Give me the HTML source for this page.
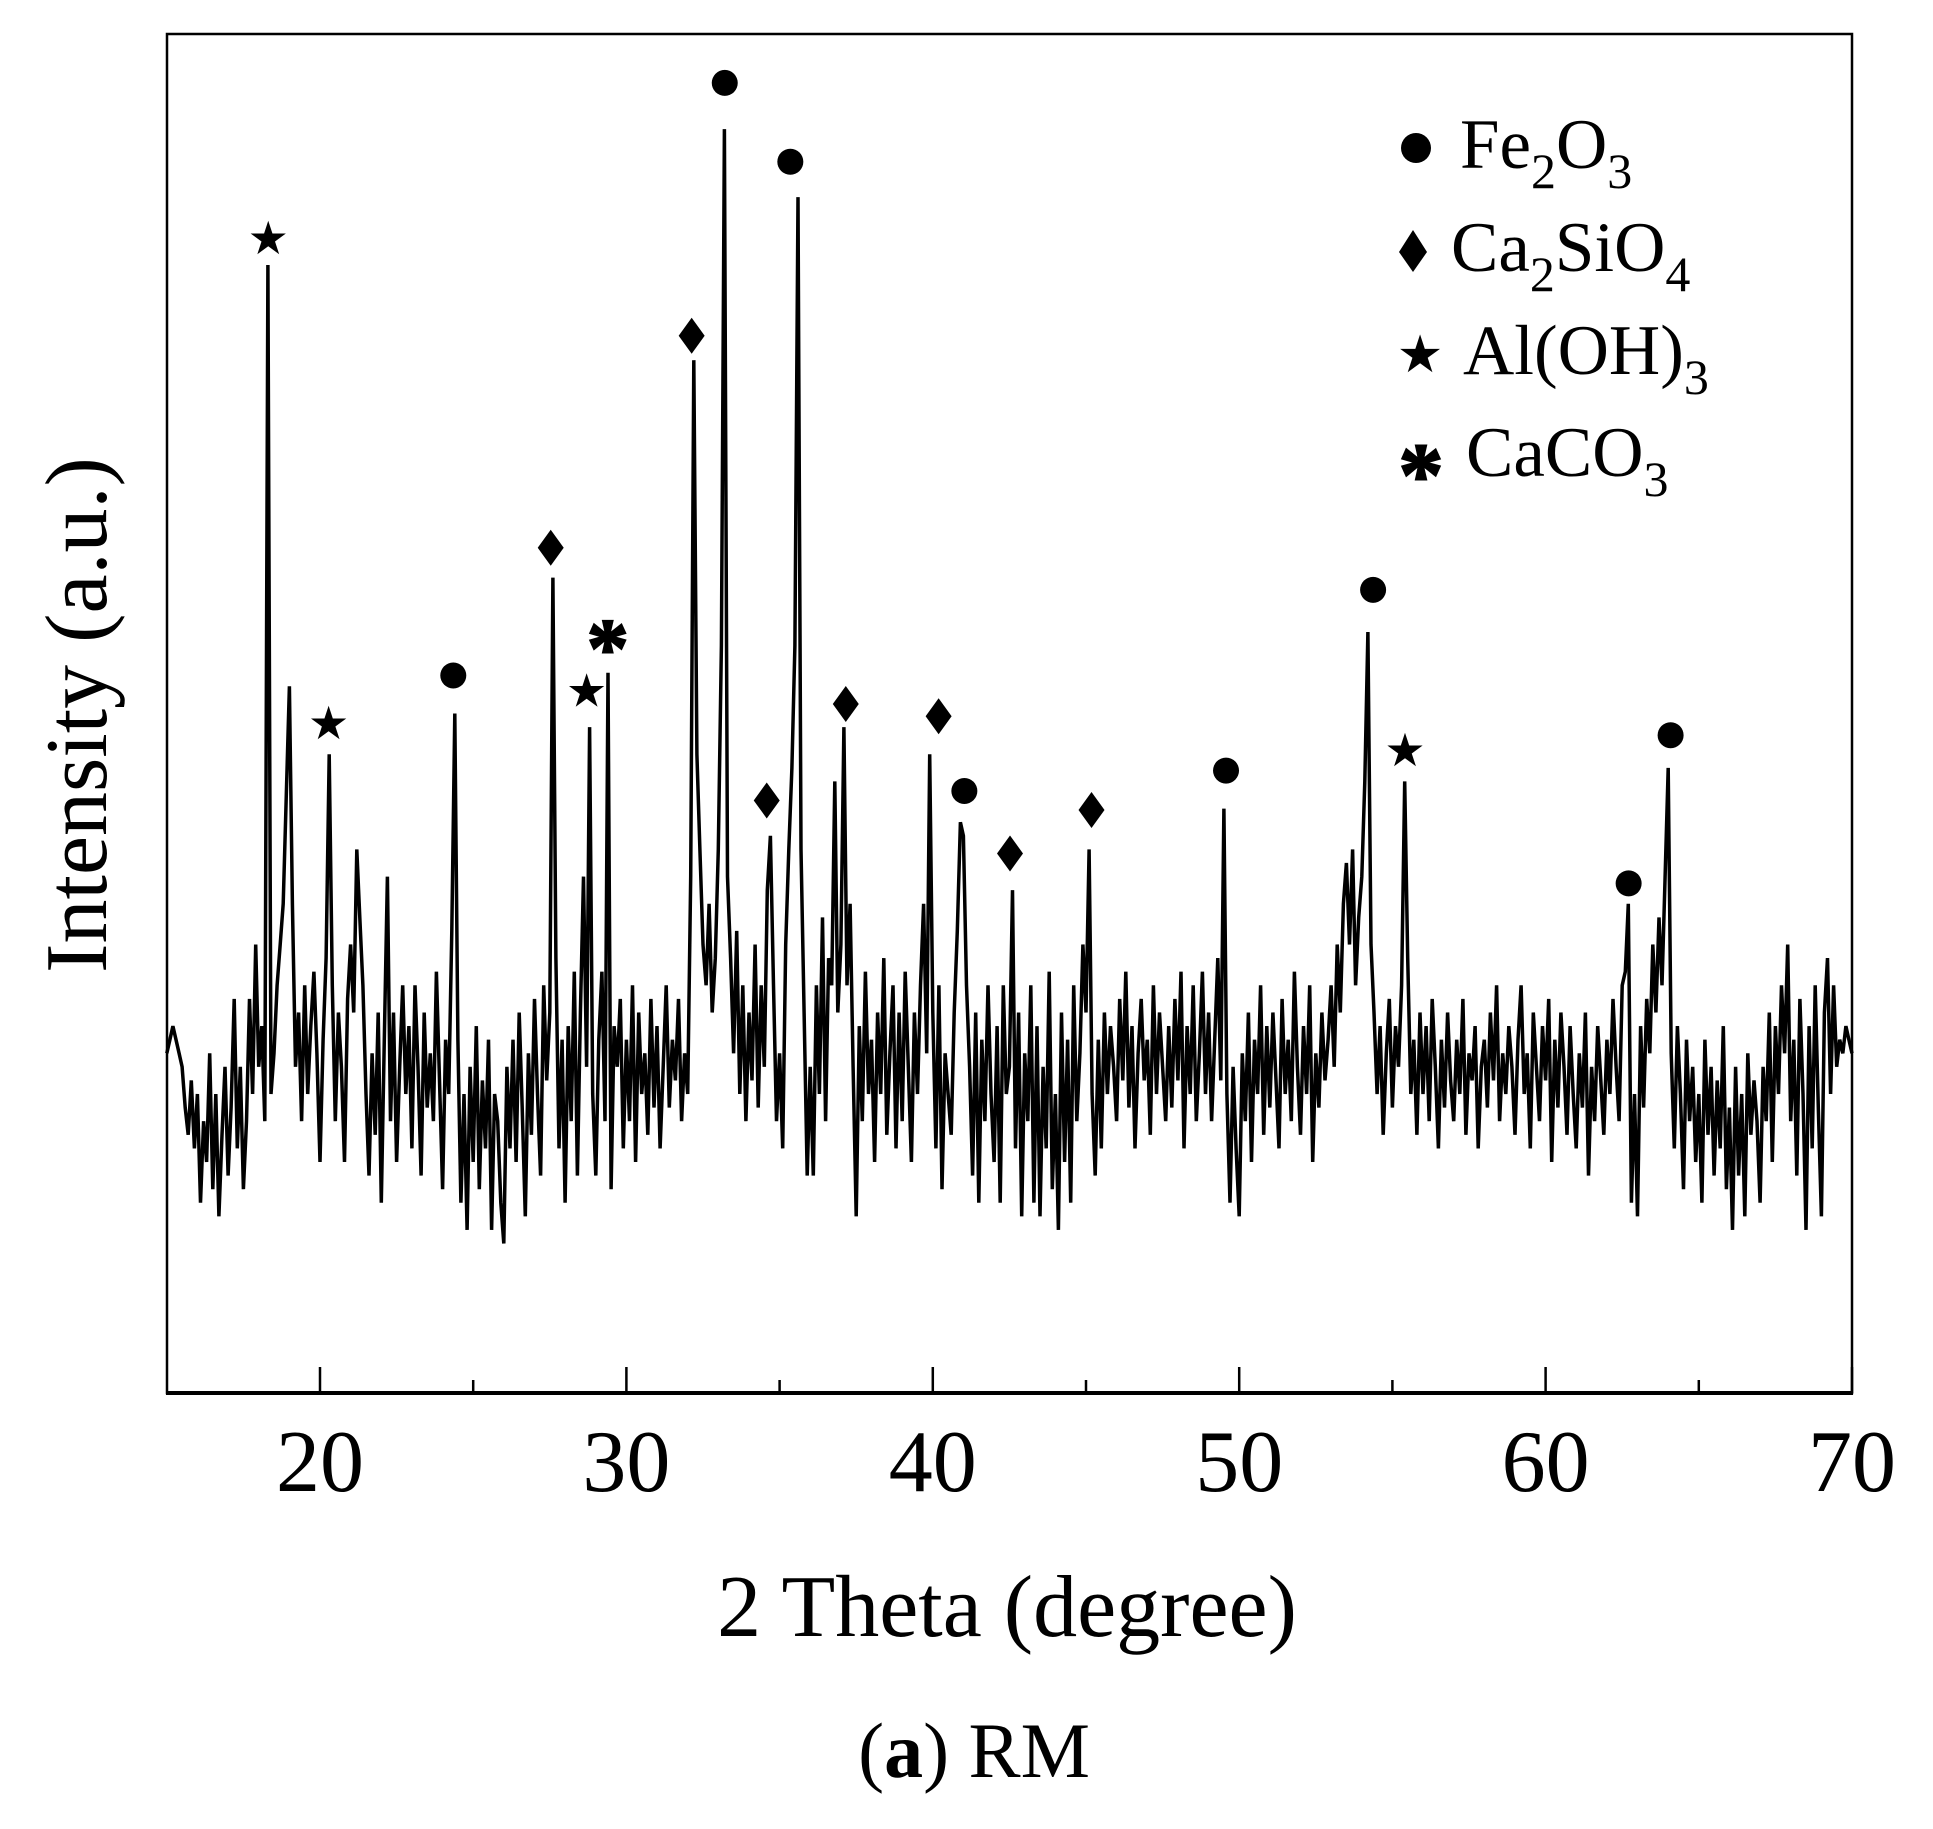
<!DOCTYPE html>
<html><head><meta charset="utf-8"><style>
html,body{margin:0;padding:0;background:#fff;}
svg{display:block;font-family:"Liberation Serif","Times New Roman",serif;}
</style></head><body>
<svg id="chart" width="1933" height="1829" viewBox="0 0 1933 1829" xmlns="http://www.w3.org/2000/svg">
<rect x="0" y="0" width="1933" height="1829" fill="#fff"/>
<g id="marks"></g>
<rect x="167" y="34" width="1685" height="1359" fill="none" stroke="#000" stroke-width="2.5"/>
<line x1="166" y1="1393" x2="1853" y2="1393" stroke="#000" stroke-width="4"/>
<g id="ticks"></g>
<text x="1007" y="1636" font-size="88" text-anchor="middle">2 Theta (degree)</text>
<text transform="translate(106,715) rotate(-90)" font-size="88" text-anchor="middle">Intensity (a.u.)</text>
<text x="974" y="1777" font-size="78" text-anchor="middle">(<tspan font-weight="bold">a</tspan>) RM</text>
<g>
<circle cx="1416" cy="148" r="15" fill="#000"/>
<text x="1460" y="168" font-size="71">Fe<tspan font-size="50" dy="20">2</tspan><tspan dy="-20">O</tspan><tspan font-size="50" dy="20">3</tspan></text>
<polygon points="1413,230 1427,252 1413,272 1399,252" fill="#000"/>
<text x="1451" y="271" font-size="71">Ca<tspan font-size="50" dy="20">2</tspan><tspan dy="-20">SiO</tspan><tspan font-size="50" dy="20">4</tspan></text>
<text x="1420" y="372" font-size="52" text-anchor="middle">★</text>
<text x="1463" y="374" font-size="71">Al(OH)<tspan font-size="50" dy="20">3</tspan></text>
<text x="1421" y="505" font-size="90" font-weight="bold" stroke="#000" stroke-width="2" text-anchor="middle">*</text>
<text x="1466" y="476" font-size="71">CaCO<tspan font-size="50" dy="20">3</tspan></text>
</g>
</svg>
<script>
const thetaStart = 15.0;
const thetaStep = 0.1;
const intensity = [
25,26,27,26,25,24,21,19,23,18,
22,14,20,17,25,15,22,13,19,24,
16,21,29,18,24,15,20,29,22,33,
24,27,20,83,22,25,30,33,36,44,
52,36,24,28,20,30,22,27,31,25,
17,26,32,47,30,20,28,24,17,29,
33,28,40,35,30,22,16,25,19,28,
14,26,38,20,28,17,24,30,22,27,
18,30,24,16,28,21,25,20,31,23,
15,26,22,34,50,26,14,22,12,24,
17,27,15,23,18,26,12,22,20,14,
11,24,18,26,17,28,21,13,25,19,
29,22,16,30,23,28,60,32,18,26,
14,27,20,31,16,28,38,24,49,22,
16,26,31,20,53,15,27,24,29,18,
26,20,30,17,28,22,25,19,29,21,
27,18,24,30,21,26,23,29,20,25,
22,38,76,47,40,33,30,36,28,32,
40,55,93,38,32,25,34,22,30,20,
28,23,33,21,30,24,37,41,30,20,
25,18,33,40,46,55,88,40,28,16,
24,16,30,22,35,20,32,30,45,28,
33,49,30,36,24,13,27,20,31,22,
26,17,28,22,32,19,25,30,18,28,
20,31,24,17,28,22,30,36,25,47,
28,18,30,15,25,22,19,28,34,42,
41,30,24,16,28,14,26,20,30,22,
17,27,14,30,22,24,37,18,28,13,
25,20,30,14,27,13,24,18,31,15,
22,12,28,17,26,14,30,20,25,33,
28,40,22,16,26,18,28,22,27,24,
20,29,23,31,21,27,18,25,29,23,
26,19,30,22,28,24,20,27,21,29,
23,31,18,27,22,30,20,25,31,22,
28,20,26,32,23,43,22,14,24,18,
13,25,20,28,17,26,22,30,19,27,
21,28,23,18,29,22,26,20,31,24,
19,27,22,30,17,25,21,28,23,26,
30,24,33,28,36,39,33,40,30,35,
38,45,56,33,28,22,27,19,25,29,
21,27,24,30,45,32,22,26,19,28,
22,27,20,29,24,18,26,21,28,23,
20,26,22,29,19,25,23,27,18,24,
26,21,28,23,30,20,25,22,27,24,
19,26,30,22,25,18,28,24,20,27,
23,29,17,26,21,28,24,19,27,22,
18,25,21,28,16,24,20,27,23,19,
26,22,29,24,20,30,31,36,14,22,
13,27,21,29,25,33,28,35,30,38,
46,25,18,27,22,15,26,20,24,17,
22,14,26,19,24,16,23,18,27,15,
21,12,24,16,22,13,25,19,23,20,
14,24,20,28,17,27,22,30,25,33,
20,26,16,29,22,12,27,18,30,21,
13,28,32,22,30,24,26,25,27,26,
25];
const markerPhase = ["star","star","star","star","circle","circle","circle","circle","circle","circle","circle","circle","diamond","diamond","diamond","diamond","diamond","diamond","diamond","asterisk"];
const markerTheta = [18.31,20.28,28.70,55.41,24.35,33.21,35.35,41.03,49.57,54.37,62.71,64.08,32.13,27.53,37.16,34.58,40.19,42.52,45.18,29.39];
const markerIntensity = [85.0,49.3,51.7,47.3,52.8,96.4,90.6,44.3,45.8,59.1,37.5,48.4,77.8,62.2,50.7,43.6,49.8,39.7,42.9,55.4];
const majorTicks = [20,30,40,50,60,70];
const minorTicks = [25,35,45,55,65];

const NS = "http://www.w3.org/2000/svg";
const xMin = 15, xMax = 70, px0 = 166.8, px1 = 1852;
const yBottom = 1393, yTop = 34;
function xs(v){ return px0 + (v - xMin) / (xMax - xMin) * (px1 - px0); }
function ys(v){ return yBottom - v / 100 * (yBottom - yTop); }

const marks = document.getElementById('marks');
let d = "";
for (let i = 0; i < intensity.length; i++) {
  const t = thetaStart + i * thetaStep;
  d += (i ? "L" : "M") + xs(t).toFixed(1) + "," + ys(intensity[i]).toFixed(1);
}
const path = document.createElementNS(NS, 'path');
path.setAttribute('d', d);
path.setAttribute('fill', 'none');
path.setAttribute('stroke', '#000');
path.setAttribute('stroke-width', '3.5');
path.setAttribute('stroke-linejoin', 'miter');


marks.appendChild(path);

for (let i = 0; i < markerPhase.length; i++) {
  const cx = xs(markerTheta[i]), cy = ys(markerIntensity[i]);
  const p = markerPhase[i];
  let el;
  if (p === "circle") {
    el = document.createElementNS(NS, 'circle');
    el.setAttribute('cx', cx); el.setAttribute('cy', cy); el.setAttribute('r', 13);
    el.setAttribute('fill', '#000');
  } else if (p === "diamond") {
    el = document.createElementNS(NS, 'polygon');
    el.setAttribute('points', `${cx},${cy-18} ${cx+13},${cy} ${cx},${cy+18} ${cx-13},${cy}`);
    el.setAttribute('fill', '#000');
  } else if (p === "star") {
    el = document.createElementNS(NS, 'text');
    el.setAttribute('x', cx); el.setAttribute('y', cy + 16);
    el.setAttribute('font-size', '46'); el.setAttribute('text-anchor', 'middle');
    el.textContent = "★";
  } else {
    el = document.createElementNS(NS, 'text');
    el.setAttribute('x', cx); el.setAttribute('y', cy + 36);
    el.setAttribute('font-size', '84'); el.setAttribute('font-weight', 'bold');
    el.setAttribute('stroke', '#000'); el.setAttribute('stroke-width', '2');
    el.setAttribute('text-anchor', 'middle');
    el.textContent = "*";
  }
  
  
  marks.appendChild(el);
}

const ticks = document.getElementById('ticks');
majorTicks.forEach(v => {
  const l = document.createElementNS(NS, 'line');
  l.setAttribute('x1', xs(v)); l.setAttribute('x2', xs(v));
  l.setAttribute('y1', yBottom); l.setAttribute('y2', yBottom - 26);
  l.setAttribute('stroke', '#000'); l.setAttribute('stroke-width', '2.5');
  
  
  ticks.appendChild(l);
  const t = document.createElementNS(NS, 'text');
  t.setAttribute('x', xs(v)); t.setAttribute('y', 1491);
  t.setAttribute('font-size', '88'); t.setAttribute('text-anchor', 'middle');
  t.textContent = v;
  
  
  ticks.appendChild(t);
});
minorTicks.forEach(v => {
  const l = document.createElementNS(NS, 'line');
  l.setAttribute('x1', xs(v)); l.setAttribute('x2', xs(v));
  l.setAttribute('y1', yBottom); l.setAttribute('y2', yBottom - 13);
  l.setAttribute('stroke', '#000'); l.setAttribute('stroke-width', '2.5');
  
  
  ticks.appendChild(l);
});
</script>
</body></html>
